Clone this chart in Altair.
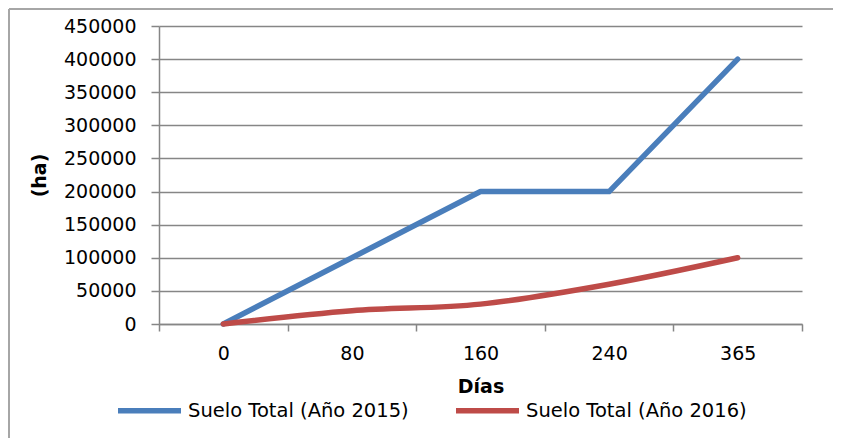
import altair as alt
import pandas as pd

dias = ["0", "80", "160", "240", "365"]
suelo_2015 = [0, 100000, 200000, 200000, 400000]
suelo_2016 = [0, 20000, 30000, 60000, 100000]
series = ["Suelo Total (Año 2015)", "Suelo Total (Año 2016)"]
colors = ["#4a7ebb", "#be4b48"]
y_ticks = [0, 50000, 100000, 150000, 200000, 250000, 300000, 350000, 400000, 450000]

rows = []
for d, v in zip(dias, suelo_2015):
    rows.append({"Días": d, "ha": v, "serie": series[0]})
for d, v in zip(dias, suelo_2016):
    rows.append({"Días": d, "ha": v, "serie": series[1]})
df = pd.DataFrame(rows)

GRAY = "#868686"
FONT = "DejaVu Sans"

x = alt.X(
    "Días:N",
    sort=dias,
    scale=alt.Scale(type="band", paddingInner=0, paddingOuter=0),
    axis=alt.Axis(
        title="Días", labelAngle=0, tickBand="extent", tickSize=7,
        tickColor=GRAY, domainColor=GRAY, domainWidth=1.5, tickWidth=1.5,
        labelFontSize=19, labelColor="black", labelPadding=13,
        titleFontSize=19, titleFontWeight="bold", titleColor="black", titlePadding=14,
        grid=False,
    ),
)
y = alt.Y(
    "ha:Q",
    scale=alt.Scale(domain=[0, 450000], nice=False),
    axis=alt.Axis(
        values=y_ticks, format="d", title="(ha)", tickSize=8,
        tickColor=GRAY, domainColor=GRAY, domainWidth=1.5, tickWidth=1.5,
        gridColor=GRAY, gridWidth=1.3,
        labelFontSize=19, labelColor="black", labelPadding=15,
        titleFontSize=19, titleFontWeight="bold", titleColor="black", titlePadding=14,
    ),
)
color = alt.Color(
    "serie:N",
    scale=alt.Scale(domain=series, range=colors),
    legend=alt.Legend(
        title=None, orient="none", legendX=-44, legendY=350, direction="horizontal",
        symbolType="stroke", symbolSize=3969, symbolStrokeWidth=5.5,
        labelFontSize=19.5, labelColor="black", labelOffset=4, columnPadding=36,
        padding=0, labelLimit=0,
    ),
)

base = alt.Chart(df).encode(x=x, y=y, color=color)
l1 = base.transform_filter(alt.datum.serie == series[0]).mark_line(
    strokeWidth=5.5, strokeCap="round", strokeJoin="round"
)
l2 = base.transform_filter(alt.datum.serie == series[1]).mark_line(
    strokeWidth=5.5, strokeCap="round", strokeJoin="round", interpolate="monotone"
)

frame_df = pd.DataFrame({"k": [0]})
top_border = alt.Chart(frame_df).mark_rule(color="#a6a6a6", strokeWidth=2).encode(
    x=alt.value(-150), x2=alt.value(700), y=alt.value(-17)
)
left_border = alt.Chart(frame_df).mark_rule(color="#a6a6a6", strokeWidth=2).encode(
    x=alt.value(-150), y=alt.value(-17), y2=alt.value(420)
)

chart = (
    alt.layer(top_border, left_border, l1, l2)
    .properties(
        width=643, height=298, autosize="none",
        padding={"left": 151, "top": 18, "right": 31, "bottom": 114},
    )
    .configure(font=FONT)
    .configure_view(stroke=None)
)

chart.save("out.html", embed_options={"renderer": "svg", "actions": False})
